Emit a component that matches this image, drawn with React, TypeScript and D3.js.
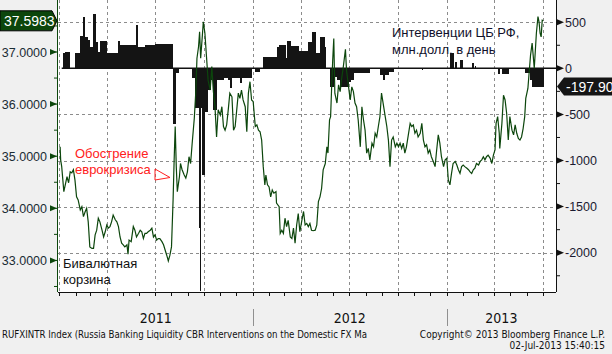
import * as d3 from 'd3';

// RUB bivalent basket, [days since 2011-01-01, value]
const basket: [number, number][] = [
  [2, 35.18], [3, 34.93], [5, 34.8], [9, 34.32], [15, 34.61], [18, 34.49], [21, 34.7], [24, 34.68],
  [27, 34.74], [30, 34.54], [33, 34.22], [36, 34.16], [40, 33.97], [43, 34.03], [46, 33.84], [49, 33.93],
  [52, 34.0], [55, 33.74], [58, 33.26], [62, 33.23], [65, 33.23], [68, 33.49], [71, 33.58], [74, 33.81],
  [77, 33.74], [81, 33.58], [84, 33.45], [87, 33.55], [90, 33.68], [93, 33.62], [96, 33.65], [99, 33.74],
  [102, 33.87], [106, 33.78], [109, 33.74], [112, 33.65], [115, 33.45], [118, 33.33], [121, 33.3], [124, 33.26],
  [128, 33.3], [130, 33.12], [132, 33.39], [136, 33.36], [140, 33.65], [143, 33.58], [146, 33.45], [150, 33.52],
  [153, 33.58], [156, 33.55], [159, 33.42], [162, 33.52], [165, 33.52], [168, 33.55], [172, 33.58], [175, 33.62],
  [178, 33.45], [181, 33.49], [184, 33.39], [187, 33.42], [190, 33.42], [194, 33.36], [197, 33.3], [200, 33.2],
  [203, 33.1], [206, 32.99], [209, 33.1], [212, 33.26], [215, 34.16], [217, 34.93], [219, 35.57], [221, 34.8],
  [223, 34.32], [227, 34.61], [229, 34.86], [232, 34.74], [236, 34.64], [239, 34.58], [242, 34.7], [245, 34.99],
  [248, 34.86], [251, 35.25], [255, 35.73], [258, 36.27], [260, 36.88], [263, 37.1], [265, 37.39], [267, 36.88],
  [270, 37.29], [272, 37.58], [275, 37.36], [278, 36.91], [281, 36.46], [285, 36.27], [288, 36.72], [291, 36.24],
  [294, 35.95], [297, 35.37], [300, 35.89], [304, 35.79], [307, 35.95], [310, 35.57], [313, 35.5], [316, 35.6],
  [319, 35.89], [322, 36.21], [326, 36.14], [329, 35.5], [332, 35.57], [335, 35.89], [338, 36.21], [341, 36.11],
  [344, 36.27], [347, 36.08], [351, 35.95], [354, 35.47], [357, 36.21], [360, 36.43], [363, 36.08], [366, 36.05],
  [370, 35.57], [373, 35.6], [376, 35.5], [379, 35.47], [382, 35.31], [385, 34.8], [388, 34.45], [390, 34.64],
  [393, 34.45], [396, 34.41], [399, 34.22], [402, 34.35], [405, 34.29], [409, 34.32], [410, 34.1], [415, 34.03],
  [417, 33.52], [420, 33.58], [423, 33.52], [426, 33.81], [429, 33.65], [432, 33.77], [436, 33.45], [439, 33.42],
  [442, 33.62], [445, 33.33], [448, 33.68], [451, 33.9], [454, 33.55], [458, 33.78], [461, 33.94], [464, 33.68],
  [467, 33.71], [470, 33.65], [473, 33.71], [476, 33.58], [479, 33.57], [483, 33.58], [486, 33.68], [489, 34.13],
  [492, 34.22], [495, 34.38], [498, 34.74], [502, 34.86], [505, 35.18], [507, 35.06], [510, 35.7], [512, 35.76],
  [514, 36.33], [516, 36.85], [518, 37.26], [520, 36.21], [524, 36.02], [527, 36.37], [530, 36.24], [533, 36.5],
  [536, 36.72], [540, 37.05], [542, 36.65], [545, 36.4], [549, 36.08], [552, 36.33], [555, 36.24], [558, 36.02],
  [561, 35.95], [564, 35.7], [568, 35.18], [571, 35.95], [574, 35.7], [577, 35.5], [580, 35.06], [583, 35.15],
  [586, 34.93], [590, 35.25], [593, 35.18], [596, 35.44], [599, 35.37], [602, 35.57], [605, 35.76], [608, 36.21],
  [611, 36.02], [615, 35.76], [618, 35.57], [621, 35.31], [624, 34.8], [627, 35.31], [630, 35.37], [634, 35.18],
  [637, 35.25], [640, 35.18], [643, 35.25], [646, 35.15], [649, 35.25], [652, 35.06], [655, 35.18], [659, 35.44],
  [662, 35.63], [665, 35.57], [668, 35.6], [671, 35.44], [674, 35.5], [677, 35.37], [681, 35.44], [684, 35.63],
  [687, 35.31], [690, 35.18], [693, 35.22], [696, 35.06], [699, 35.12], [702, 34.99], [706, 34.89], [709, 34.8],
  [712, 35.12], [715, 35.41], [718, 35.25], [721, 34.99], [725, 34.8], [728, 34.93], [731, 34.96], [734, 34.54],
  [737, 34.45], [740, 34.67], [743, 34.86], [747, 34.9], [750, 34.83], [753, 34.74], [756, 34.67], [759, 34.8],
  [762, 34.83], [765, 34.8], [769, 34.77], [772, 34.74], [775, 34.7], [778, 34.67], [781, 34.74], [784, 34.77],
  [787, 34.86], [791, 34.83], [794, 34.9], [797, 34.93], [800, 34.99], [803, 34.93], [806, 34.99], [809, 35.02],
  [813, 34.96], [816, 34.86], [819, 35.02], [822, 35.12], [824, 35.63], [827, 35.76], [830, 35.44], [831, 35.15],
  [835, 35.63], [838, 36.17], [841, 36.08], [844, 35.82], [847, 35.31], [850, 35.76], [854, 35.5], [857, 35.41],
  [860, 35.6], [863, 35.44], [866, 35.34], [869, 35.31], [872, 35.37], [875, 35.53], [878, 35.76], [880, 36.11],
  [884, 36.3], [886, 36.56], [889, 36.94], [892, 37.17], [896, 36.69], [897, 36.85], [900, 37.36], [903, 37.68],
  [905, 37.58], [907, 37.36], [909, 37.29], [911, 37.61], [913, 37.5983],
];

// CBR interventions, mln USD per day: [from day, to day, amount]
const interventions: [number, number, number][] = [
  [8, 11, 165], [11, 19, 177], [30, 40, 165], [40, 45, 350], [45, 49, 560], [49, 53, 340], [53, 58, 310],
  [58, 64, 230], [64, 68, 590], [68, 72, 285], [72, 77, 177], [77, 90, 296], [90, 111, 165], [111, 115, 296],
  [115, 145, 253], [145, 149, 470], [149, 162, 230], [162, 181, 253], [181, 215, 263],
  [215, 220, -600], [220, 225, -50], [250, 256, -106], [256, 263, -430], [263, 265, -1735], [265, 267, -2410],
  [267, 270, -430], [270, 275, -1160], [275, 280, -470], [280, 286, -235], [286, 291, -128], [291, 297, -450],
  [297, 310, -128], [310, 319, -106], [319, 323, -128], [323, 326, -215], [326, 341, -106], [341, 344, -160],
  [344, 363, -106], [370, 379, -40],
  [385, 411, 120], [411, 415, 230], [415, 428, 253], [428, 430, 110], [430, 436, 300], [436, 451, 240],
  [451, 470, 185], [470, 477, 290], [477, 483, 395], [483, 492, 165], [492, 500, 340], [500, 503, 230],
  [511, 518, -200], [518, 524, -95], [524, 530, -128], [530, 545, -200], [545, 549, -150], [549, 555, -128],
  [555, 586, -55], [605, 611, -75], [611, 614, -128], [614, 622, -75], [622, 630, -40], [667, 669, -10],
  [684, 686, -20],
  [737, 743, 165], [747, 750, 70], [756, 760, 90], [779, 781, 60], [784, 786, 25],
  [827, 831, -60], [835, 848, -62], [878, 888, -55], [888, 892, -130], [892, 913, -197.9],
];

const leftTicks = [33, 34, 35, 36, 37];
const rightTicks = [500, 0, -500, -1000, -1500, -2000];
const years = [2011, 2012, 2013];

const W = 612;
const H = 354;
const PL = 58;
const PR = 556;
const PT = 0;
const PB = 292;
const BASE = new Date(2011, 0, 1);
const day = (n: number) => d3.timeDay.offset(BASE, n);

const GREEN = '#0c460c';
const AXIS_FONT = '"Liberation Sans", Arial, sans-serif';
const NARROW = '"Liberation Sans Narrow", "DejaVu Sans Condensed", sans-serif';

export default function App() {
  const x = d3.scaleTime().domain([new Date(2010, 11, 30), new Date(2013, 6, 26)]).range([PL, PR]);
  const yL = d3.scaleLinear().domain([32.394, 37.998]).range([PB, PT]);
  const yR = d3.scaleLinear().domain([-2426, 741]).range([PB, PT]);

  const line = d3
    .line<[number, number]>()
    .x((d) => x(day(d[0])))
    .y((d) => yL(d[1]));

  const quarters = x.ticks(d3.timeMonth.every(3)!);
  const months = x.ticks(d3.timeMonth.every(1)!);
  const leftMinor = d3.range(32.5, 38, 0.5);
  const rightMinor = d3.range(-2250, 750, 250);

  const lastL = basket[basket.length - 1][1];
  const lastR = interventions[interventions.length - 1][2];
  const tagL = yL(lastL);
  const tagR = yR(lastR);
  const zeroY = yR(0);

  return (
    <svg width={W} height={H} style={{ position: 'absolute', left: 0, top: 0 }}>
      <defs>
        <clipPath id="plot">
          <rect x={PL} y={PT} width={PR - PL} height={PB - PT} />
        </clipPath>
      </defs>
      <rect width={W} height={H} fill="#f0f0f0" />
      <rect x={PL} y={PT} width={PR - PL} height={PB - PT} fill="#fff" />

      {/* grid */}
      <g stroke="#8c8c8c" strokeDasharray="3,3" strokeWidth={1}>
        {rightTicks
          .filter((t) => t !== 0)
          .map((t) => (
            <line key={t} x1={PL} x2={PR} y1={Math.round(yR(t)) + 0.5} y2={Math.round(yR(t)) + 0.5} />
          ))}
        {quarters.map((q) => (
          <line key={+q} x1={Math.round(x(q)) + 0.5} x2={Math.round(x(q)) + 0.5} y1={PT} y2={PB} />
        ))}
      </g>

      {/* interventions */}
      <g clipPath="url(#plot)" fill="#141414" shapeRendering="crispEdges">
        {interventions.map(([s, e, v], i) => {
          const x0 = x(day(s));
          const x1 = x(day(e));
          return (
            <rect
              key={i}
              x={x0}
              width={Math.max(x1 - x0 + 0.4, 1)}
              y={Math.min(yR(v), zeroY)}
              height={Math.abs(yR(v) - zeroY)}
            />
          );
        })}
      </g>
      <line x1={x(day(5))} x2={PR} y1={zeroY} y2={zeroY} stroke="#111" strokeWidth={1.5} />

      {/* basket line */}
      <path d={line(basket) ?? ''} fill="none" stroke={GREEN} strokeWidth={1.2} clipPath="url(#plot)" />

      {/* annotations */}
      <g fontFamily={AXIS_FONT} fontSize={13}>
        <text x={392} y={37} fill="#10102a">Интервенции ЦБ РФ,</text>
        <text x={392} y={54} fill="#10102a">млн.долл. в день</text>
        <text x={75} y={158} fill="#ff2020">Обострение</text>
        <text x={75} y={174} fill="#ff2020">еврокризиса</text>
        <text x={63} y={268} fill="#111">Бивалютная</text>
        <text x={63} y={284} fill="#111">корзина</text>
      </g>
      <polygon points="155,169 170,177.5 155,180" fill="none" stroke="#ff2020" strokeWidth={1} />

      {/* left axis */}
      <line x1={PL - 0.5} x2={PL - 0.5} y1={PT} y2={PB} stroke={GREEN} strokeWidth={1} />
      {leftMinor.map((t) => (
        <line key={t} x1={PL - 4} x2={PL} y1={yL(t)} y2={yL(t)} stroke={GREEN} />
      ))}
      {leftTicks.map((t) => (
        <g key={t}>
          <polygon points={`${PL - 8},${yL(t) - 3} ${PL - 1},${yL(t)} ${PL - 8},${yL(t) + 3}`} fill={GREEN} />
          <text x={47} y={yL(t) + 4.5} textAnchor="end" fontFamily={AXIS_FONT} fontSize={12.5} fill="#1a2c34">
            {t.toFixed(4)}
          </text>
        </g>
      ))}

      {/* right axis */}
      <line x1={PR + 0.5} x2={PR + 0.5} y1={PT} y2={PB} stroke="#111" strokeWidth={1} />
      {rightMinor.map((t) => (
        <line key={t} x1={PR} x2={PR + 4} y1={yR(t)} y2={yR(t)} stroke="#111" />
      ))}
      {rightTicks.map((t) => (
        <g key={t}>
          <polygon points={`${PR + 1},${yR(t) - 3} ${PR + 8},${yR(t)} ${PR + 1},${yR(t) + 3}`} fill="#111" />
          <text x={565} y={yR(t) + 4.5} fontFamily={AXIS_FONT} fontSize={12.5} fill="#1a1a30">
            {t}
          </text>
        </g>
      ))}

      {/* bottom axis */}
      <line x1={PL} x2={PR} y1={PB + 0.5} y2={PB + 0.5} stroke="#111" />
      {months.map((m) => (
        <line key={+m} x1={Math.round(x(m)) + 0.5} x2={Math.round(x(m)) + 0.5} y1={PB} y2={PB + 4} stroke="#111" />
      ))}
      {years.map((yr) => {
        const a = Math.max(x(new Date(yr, 0, 1)), PL);
        const b = Math.min(x(new Date(yr + 1, 0, 1)), PR);
        return (
          <g key={yr}>
            {yr > years[0] && (
              <line x1={Math.round(a) + 0.5} x2={Math.round(a) + 0.5} y1={309} y2={326} stroke="#909090" />
            )}
            <text
              x={(a + b) / 2}
              y={323}
              textAnchor="middle"
              fontFamily={NARROW}
              fontSize={14}
              fill="#111"
            >
              {yr}
            </text>
          </g>
        );
      })}

      {/* value tags */}
      <polygon
        points={`0,${tagL - 10} 52,${tagL - 10} 57,${tagL} 52,${tagL + 10} 0,${tagL + 10}`}
        fill={GREEN}
        stroke="#000"
      />
      <text x={4} y={tagL + 5} fontFamily={AXIS_FONT} fontSize={14} fill="#fff">
        {lastL.toFixed(4)}
      </text>
      <polygon
        points={`${PR + 1},${tagR} ${PR + 8},${tagR - 9} ${W},${tagR - 9} ${W},${tagR + 9} ${PR + 8},${tagR + 9}`}
        fill="#151515"
      />
      <text x={566} y={tagR + 5} fontFamily={AXIS_FONT} fontSize={14} fill="#fff">
        {lastR.toFixed(2)}
      </text>

      {/* footer */}
      <g fontFamily={NARROW} fontSize={10} fill="#111">
        <text x={2} y={338} textLength={365} lengthAdjust="spacingAndGlyphs">
          RUFXINTR Index (Russia Banking Liquidity CBR Interventions on the Domestic FX Ma
        </text>
        <text x={605} y={338} textAnchor="end">
          Copyright© 2013 Bloomberg Finance L.P.
        </text>
        <text x={605} y={349} textAnchor="end">
          02-Jul-2013 15:40:15
        </text>
      </g>
    </svg>
  );
}
